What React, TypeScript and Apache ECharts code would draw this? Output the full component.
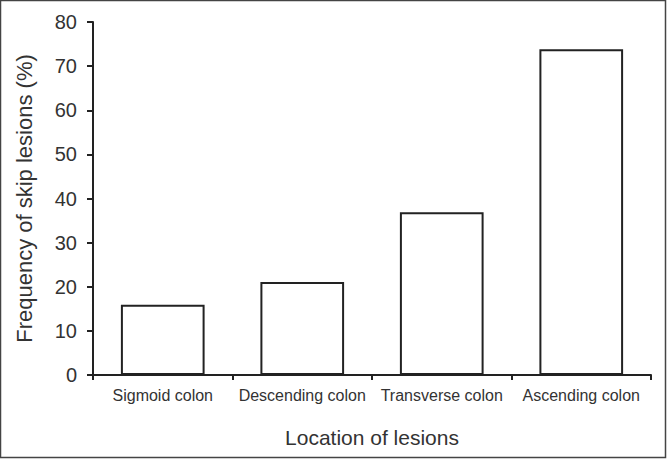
import React, { useEffect, useRef } from "react";
import * as echarts from "echarts";

const categories = ["Sigmoid colon", "Descending colon", "Transverse colon", "Ascending colon"];
const frequencies = [15.9, 21.1, 36.9, 73.8];
const yTicks = { min: 0, max: 80, interval: 10 };

export default function App() {
  const ref = useRef<HTMLDivElement>(null);
  useEffect(() => {
    document.body.style.margin = "0";
    const chart = echarts.init(ref.current!, undefined, { renderer: "svg" });
    const font = "'Liberation Sans', Arial, sans-serif";
    chart.setOption({
      animation: false,
      backgroundColor: "#ffffff",
      graphic: [
        {
          type: "rect",
          shape: { x: 0.5, y: 0.5, width: 665, height: 457 },
          style: { fill: "none", stroke: "#444", lineWidth: 1.5 },
          silent: true,
        },
      ],
      grid: { left: 93, right: 17, top: 22, bottom: 84 },
      xAxis: {
        type: "category",
        data: categories,
        name: "Location of lesions",
        nameLocation: "middle",
        nameGap: 52,
        nameTextStyle: { fontFamily: font, fontSize: 21, color: "#333" },
        axisLine: { lineStyle: { color: "#222", width: 2 } },
        axisTick: { show: true, interval: 0, length: 5, lineStyle: { color: "#222", width: 2 } },
        axisLabel: { interval: 0, fontFamily: font, fontSize: 16, color: "#333", margin: 12 },
      },
      yAxis: {
        type: "value",
        min: yTicks.min,
        max: yTicks.max,
        interval: yTicks.interval,
        name: "Frequency of skip lesions (%)",
        nameLocation: "middle",
        nameGap: 58,
        nameTextStyle: { fontFamily: font, fontSize: 22, color: "#333" },
        splitLine: { show: false },
        axisLine: { show: true, lineStyle: { color: "#222", width: 2 } },
        axisTick: { show: true, length: 6, lineStyle: { color: "#222", width: 2 } },
        axisLabel: { fontFamily: font, fontSize: 20, color: "#333", margin: 16 },
      },
      series: [
        {
          type: "bar",
          data: frequencies,
          barWidth: "60%",
          itemStyle: { color: "#ffffff", borderColor: "#222", borderWidth: 2 },
        },
      ],
    });
    return () => chart.dispose();
  }, []);
  return <div ref={ref} style={{ width: 668, height: 459, position: "absolute", left: 0, top: 0 }} />;
}
